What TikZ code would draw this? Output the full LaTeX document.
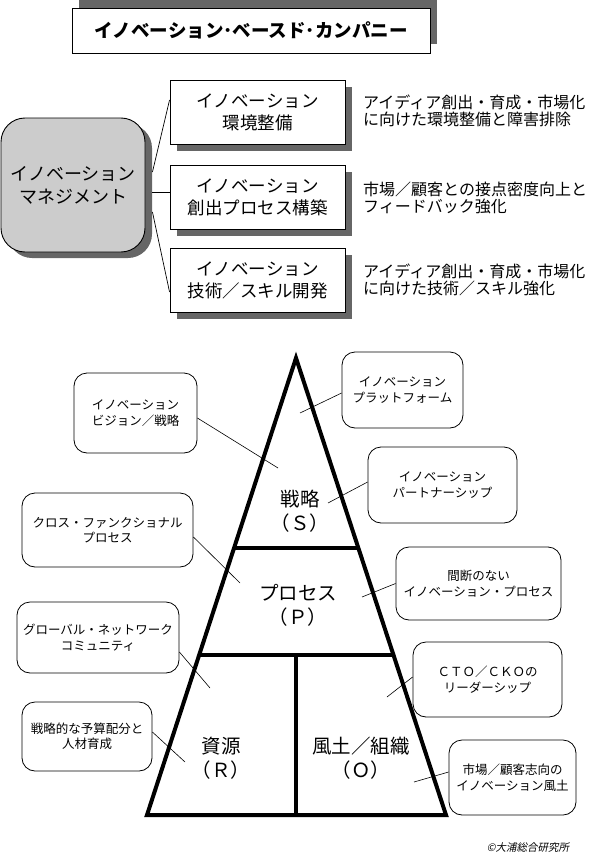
\documentclass[tikz,border=0pt]{standalone}
\usepackage{fontspec}
\setmainfont{Noto Sans CJK JP}
\newfontfamily\slantjp[FakeSlant=0.2]{Noto Sans CJK JP}
\usetikzlibrary{calc}
\definecolor{shadowgray}{HTML}{666666}
\definecolor{mgmtgray}{HTML}{CCCCCC}
\tikzset{
  titlebox/.style={draw=black, line width=0.9pt, fill=white, minimum width=358, minimum height=45,
    font=\fontsize{18.5}{20}\selectfont\bfseries},
  mgmtbox/.style={draw=black, line width=0.9pt, fill=mgmtgray, rounded corners=24, minimum width=144,
    minimum height=134, align=center, font=\fontsize{18}{23}\selectfont},
  areabox/.style={draw=black, line width=0.9pt, fill=white, minimum width=175, minimum height=64,
    align=center, font=\fontsize{17.5}{22}\selectfont},
  boxshadow/.style={fill=shadowgray, draw=none},
  desc/.style={anchor=west, align=left, font=\fontsize{16}{17.5}\selectfont, inner sep=0},
  callout/.style={draw=black, line width=0.8pt, fill=white, rounded corners=13, align=center,
    font=\fontsize{12.5}{15.5}\selectfont, inner sep=0},
  leader/.style={draw=black, line width=0.6pt},
  conn/.style={draw=black, line width=0.7pt},
  pyr/.style={draw=black, line width=4pt},
  pyrlabel/.style={align=center, font=\fontsize{19.5}{24}\selectfont, inner sep=0},
}
\begin{document}
\begin{tikzpicture}[x=1pt, y=-1pt]
\useasboundingbox (0,0) rectangle (598,859);

% title
\fill[boxshadow] (79,0) rectangle (437,44);
\node[titlebox] (title) at (251,30.5) {イノベーション･ベースド･カンパニー};

% management box with shadow
\fill[boxshadow, rounded corners=24] (8,124) rectangle (152,258);
\node[mgmtbox] (mgmt) at (73,185) {イノベーション\\マネジメント};

% area boxes with shadows
\fill[boxshadow] (177,87) rectangle (352,151);
\node[areabox] (b1) at (257.5,112) {イノベーション\\環境整備};
\fill[boxshadow] (177,172) rectangle (352,236);
\node[areabox] (b2) at (257.5,197) {イノベーション\\創出プロセス構築};
\fill[boxshadow] (177,255) rectangle (352,319);
\node[areabox] (b3) at (257.5,280) {イノベーション\\技術／スキル開発};

\draw[conn] ($(mgmt.east)+(7,-13)$) -- ($(b1.west)+(0,-12)$);
\draw[conn] ($(mgmt.east)+(7,7)$) -- ($(b2.west)+(0,-5)$);
\draw[conn] ($(mgmt.east)+(7,27)$) -- ($(b3.west)+(0,12)$);

% descriptions
\node[desc] (d1) at (363,111) {アイディア創出・育成・市場化\\に向けた環境整備と障害排除};
\node[desc] (d2) at (363,198) {市場／顧客との接点密度向上と\\フィードバック強化};
\node[desc] (d3) at (363,280) {アイディア創出・育成・市場化\\に向けた技術／スキル強化};

% pyramid
\coordinate (apex) at (296,358);
\coordinate (bl) at (147,815);
\coordinate (br) at (446,815);
\coordinate (l1) at ($(apex)!0.4158!(bl)$);
\coordinate (r1) at ($(apex)!0.4158!(br)$);
\coordinate (l2) at ($(apex)!0.6499!(bl)$);
\coordinate (r2) at ($(apex)!0.6499!(br)$);
\coordinate (mid2) at (296,655);
\coordinate (midb) at (296,815);
\draw[pyr, line join=miter, miter limit=20] (bl) -- (apex) -- (br) -- cycle;
\draw[pyr] (l1) -- (r1);
\draw[pyr] (l2) -- (r2);
\draw[pyr] (mid2) -- (midb);

\node[pyrlabel] (ls) at (300,511) {戦略\\（Ｓ）};
\node[pyrlabel] (lp) at (298,605) {プロセス\\（Ｐ）};
\node[pyrlabel] (lr) at (221,758) {資源\\（Ｒ）};
\node[pyrlabel] (lo) at (361,758) {風土／組織\\（Ｏ）};

% callouts
\node[callout, minimum width=123, minimum height=80] (c1) at (135.5,413) {イノベーション\\ビジョン／戦略};
\node[callout, minimum width=121, minimum height=76] (c2) at (402.5,390) {イノベーション\\プラットフォーム};
\node[callout, minimum width=149, minimum height=76] (c3) at (442.5,485) {イノベーション\\パートナーシップ};
\node[callout, minimum width=171, minimum height=74] (c4) at (107.5,530) {クロス・ファンクショナル\\プロセス};
\node[callout, minimum width=165, minimum height=73] (c5) at (478.5,583.5) {間断のない\\イノベーション・プロセス};
\node[callout, minimum width=162, minimum height=71] (c6) at (98,637.5) {グローバル・ネットワーク\\コミュニティ};
\node[callout, minimum width=149, minimum height=75] (c7) at (487.5,679.5) {ＣＴＯ／ＣＫＯの\\リーダーシップ};
\node[callout, minimum width=130, minimum height=69] (c8) at (87,736.5) {戦略的な予算配分と\\人材育成};
\node[callout, minimum width=127, minimum height=75] (c9) at (512.5,777.5) {市場／顧客志向の\\イノベーション風土};

\coordinate (e1) at (278,468);
\coordinate (e2) at (300,413);
\coordinate (e3) at (328,503);
\coordinate (e4) at (240,583);
\coordinate (e5) at (362,597);
\coordinate (e6) at (210,688);
\coordinate (e7) at (387,697);
\coordinate (e8) at (185,762);
\coordinate (e9) at (414,782);
\draw[leader] ($(c1.east)+(0,5)$) -- (e1);
\draw[leader] ($(c2.west)+(0,3)$) -- (e2);
\draw[leader] ($(c3.west)+(0,-3)$) -- (e3);
\draw[leader] ($(c4.east)+(0,7)$) -- (e4);
\draw[leader] (c5.west) -- (e5);
\draw[leader] ($(c6.east)+(0,14.5)$) -- (e6);
\draw[leader] ($(c7.west)+(0,-2.5)$) -- (e7);
\draw[leader] ($(c8.east)+(0,-4.5)$) -- (e8);
\draw[leader] ($(c9.west)+(0,-5.5)$) -- (e9);

% copyright
\node[font=\fontsize{10.5}{12}\selectfont\slantjp, inner sep=0] (copy) at (528,848) {©大浦総合研究所};
\end{tikzpicture}
\end{document}
